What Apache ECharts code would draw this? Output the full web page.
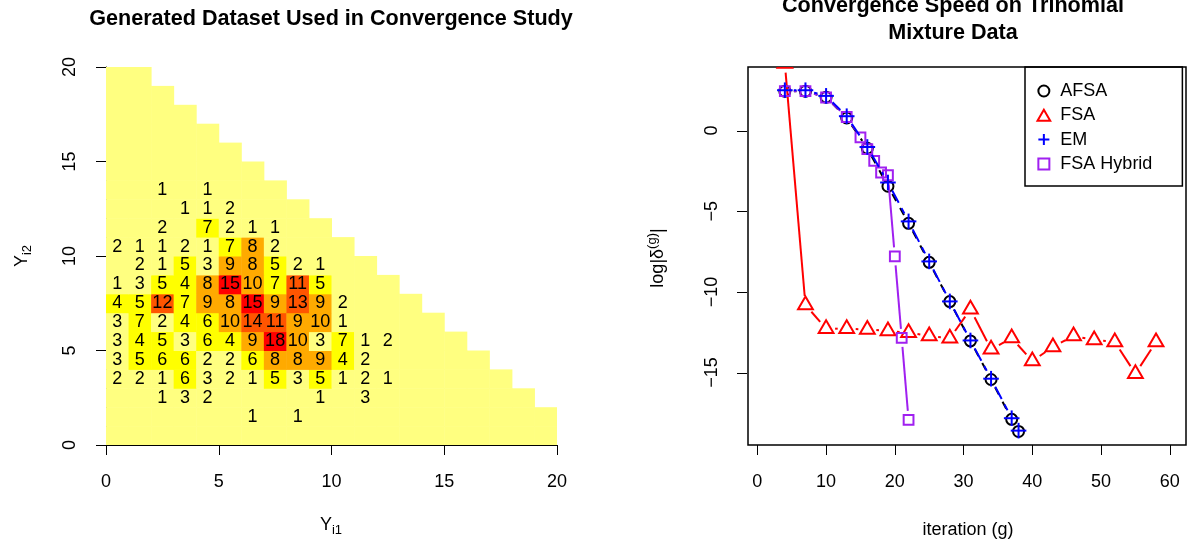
<!DOCTYPE html>
<html>
<head>
<meta charset="utf-8">
<title>Convergence study</title>
<script src="https://cdn.jsdelivr.net/npm/echarts@6/dist/echarts.min.js"></script>
<style>
  html, body { margin: 0; padding: 0; background: #fff; }
  #chart { width: 1187px; height: 546px; }
</style>
</head>
<body>
<div id="chart"></div>
<script>
// ---- left panel: counts of (Y_i1, Y_i2), row y -> counts for Y_i1 = 0..12
const trials = 20;
const countRowY = [13, 12, 11, 10, 9, 8, 7, 6, 5, 4, 3, 2, 1];
const countRows = [
    [0, 0, 1, 0, 1, 0, 0, 0, 0, 0, 0, 0, 0],
    [0, 0, 0, 1, 1, 2, 0, 0, 0, 0, 0, 0, 0],
    [0, 0, 2, 0, 7, 2, 1, 1, 0, 0, 0, 0, 0],
    [2, 1, 1, 2, 1, 7, 8, 2, 0, 0, 0, 0, 0],
    [0, 2, 1, 5, 3, 9, 8, 5, 2, 1, 0, 0, 0],
    [1, 3, 5, 4, 8, 15, 10, 7, 11, 5, 0, 0, 0],
    [4, 5, 12, 7, 9, 8, 15, 9, 13, 9, 2, 0, 0],
    [3, 7, 2, 4, 6, 10, 14, 11, 9, 10, 1, 0, 0],
    [3, 4, 5, 3, 6, 4, 9, 18, 10, 3, 7, 1, 2],
    [3, 5, 6, 6, 2, 2, 6, 8, 8, 9, 4, 2, 0],
    [2, 2, 1, 6, 3, 2, 1, 5, 3, 5, 1, 2, 1],
    [0, 0, 1, 3, 2, 0, 0, 0, 0, 1, 0, 3, 0],
    [0, 0, 0, 0, 0, 0, 1, 0, 1, 0, 0, 0, 0]
];
const heatColors = ['#FFFF80', '#FFFF00', '#FFAA00', '#FF5500', '#FF0000'];

// ---- right panel: log|delta| per iteration
const itersAFSA = [4, 7, 10, 13, 16, 19, 22, 25, 28, 31, 34, 37, 38];
const valsAFSA = [2.44, 2.44, 2.07, 0.78, -1.10, -3.45, -5.75, -8.17, -10.60, -13.04, -15.43, -17.90, -18.65];
const itersEM = [4, 7, 10, 13, 16, 19, 22, 25, 28, 31, 34, 37, 38];
const valsEM = [2.50, 2.50, 2.15, 0.89, -1.02, -3.22, -5.63, -8.11, -10.59, -13.01, -15.38, -17.83, -18.60];
const itersFSA = [4, 7, 10, 13, 16, 19, 22, 25, 28, 31, 34, 37, 40, 43, 46, 49, 52, 55, 58];
const valsFSA = [4.15, -10.81, -12.28, -12.28, -12.33, -12.42, -12.53, -12.73, -12.88, -11.08, -13.56,
    -12.86, -14.29, -13.41, -12.73, -12.98, -13.10, -15.07, -13.10];
const itersHybrid = [4, 7, 10, 13, 15, 16, 17, 18, 19, 20, 21, 22];
const valsHybrid = [2.44, 2.44, 2.05, 0.84, -0.42, -1.15, -1.88, -2.60, -2.77, -7.80, -12.85, -17.93];
const iterTicks = [0, 10, 20, 30, 40, 50, 60];
const logTicks = [-15, -10, -5, 0];

const FONT = '"Liberation Sans", Arial, Helvetica, sans-serif';
const GAP = 9; // gap left around points (type = "b")
const ITER_MIN = -1.36, ITER_MAX = 62.36;

const chart = echarts.init(document.getElementById('chart'));

// heatmap cells, whole triangle Y_i1 + Y_i2 <= trials
function countAt(i, j) {
    const r = countRowY.indexOf(j);
    if (r < 0 || i >= countRows[r].length) return 0;
    return countRows[r][i];
}
const heatData = [];
for (let j = 0; j <= trials; j++) {
    for (let i = 0; i + j <= trials; i++) heatData.push([i, j, countAt(i, j)]);
}
const maxCount = Math.max(...heatData.map(d => d[2]));
function heatColor(n) {
    const k = Math.min(heatColors.length - 1, Math.floor(n / maxCount * heatColors.length - 1e-9));
    return heatColors[Math.max(0, k)];
}

function symbolShape(shape, p, color) {
    const st = { fill: 'none', stroke: color, lineWidth: 2 };
    if (shape === 'circle') return [{ type: 'circle', shape: { cx: p[0], cy: p[1], r: 5.5 }, style: st }];
    if (shape === 'triangle') {
        const r = 8.5, w = 7.4;
        return [{ type: 'polygon', shape: { points: [[p[0], p[1] - r], [p[0] + w, p[1] + r / 2], [p[0] - w, p[1] + r / 2]] }, style: st }];
    }
    if (shape === 'square') return [{ type: 'rect', shape: { x: p[0] - 4.9, y: p[1] - 4.9, width: 9.8, height: 9.8 }, style: st }];
    return [
        { type: 'line', shape: { x1: p[0] - 7.8, y1: p[1], x2: p[0] + 7.8, y2: p[1] }, style: st },
        { type: 'line', shape: { x1: p[0], y1: p[1] - 7.8, x2: p[0], y2: p[1] + 7.8 }, style: st }
    ];
}

function methodSeries(name, xs, ys, color, dash, shape) {
    const data = xs.map((x, k) => [x, ys[k],
        k + 1 < xs.length ? xs[k + 1] : NaN, k + 1 < xs.length ? ys[k + 1] : NaN]);
    return {
        type: 'custom', name: name, xAxisIndex: 1, yAxisIndex: 1, clip: true,
        data: data, encode: { x: 0, y: 1 },
        renderItem: function (params, api) {
            const p = api.coord([api.value(0), api.value(1)]);
            const children = [];
            const xn = api.value(2), yn = api.value(3);
            if (isFinite(xn) && isFinite(yn)) {
                const q = api.coord([xn, yn]);
                const dx = q[0] - p[0], dy = q[1] - p[1];
                const f = GAP / Math.sqrt(dx * dx + dy * dy);
                if (f < 0.5) {
                    children.push({
                        type: 'line',
                        shape: { x1: p[0] + f * dx, y1: p[1] + f * dy, x2: q[0] - f * dx, y2: q[1] - f * dy },
                        style: { stroke: color, lineWidth: 2, lineDash: dash, fill: null }
                    });
                }
            }
            return { type: 'group', children: children.concat(symbolShape(shape, p, color)) };
        }
    };
}

function txt(x, y, text, opts) {
    return Object.assign({
        type: 'text', x: x, y: y,
        style: Object.assign({
            text: text, fill: '#000', font: '18px ' + FONT,
            align: 'center', verticalAlign: 'middle', textAlign: 'center', textVerticalAlign: 'middle'
        }, opts && opts.style)
    }, opts && opts.el);
}

const axisBase = {
    type: 'value',
    splitLine: { show: false },
    axisTick: { show: true, inside: false, length: 10, lineStyle: { color: '#000', width: 1 } },
    axisLabel: { color: '#000', fontFamily: FONT, fontSize: 18, margin: 28 }
};

const option = {
    animation: false,
    backgroundColor: '#fff',
    grid: [
        { left: 106, right: 630, top: 67, bottom: 101 },
        { left: 748, right: 1, top: 67, bottom: 101, show: true, borderColor: '#000', borderWidth: 1.5, backgroundColor: 'transparent' }
    ],
    xAxis: [
        Object.assign({}, axisBase, {
            gridIndex: 0, min: 0, max: trials, interval: 5,
            axisLine: { show: true, onZero: false, lineStyle: { color: '#000', width: 1 } }
        }),
        Object.assign({}, axisBase, {
            gridIndex: 1, min: ITER_MIN, max: ITER_MAX, position: 'bottom',
            axisLine: { show: false, onZero: false },
            axisTick: Object.assign({}, axisBase.axisTick, { customValues: iterTicks }),
            axisLabel: Object.assign({}, axisBase.axisLabel, { customValues: iterTicks })
        })
    ],
    yAxis: [
        Object.assign({}, axisBase, {
            gridIndex: 0, min: 0, max: trials, interval: 5,
            axisLine: { show: true, onZero: false, lineStyle: { color: '#000', width: 1 } },
            axisLabel: Object.assign({}, axisBase.axisLabel, { rotate: 90, margin: 27 })
        }),
        Object.assign({}, axisBase, {
            gridIndex: 1, min: -19.49, max: 3.94, position: 'left',
            axisLine: { show: false, onZero: false },
            axisTick: { show: false },
            axisLabel: Object.assign({}, axisBase.axisLabel, {
                rotate: 90, margin: 27, customValues: logTicks,
                formatter: v => (v < 0 ? '\u2212' + Math.abs(v) : String(v))
            })
        })
    ],
    legend: {
        left: 1025, top: 67, orient: 'vertical',
        padding: [15, 30, 13, 10],
        itemWidth: 15, itemHeight: 11, itemGap: 6.3,
        symbolKeepAspect: true,
        borderColor: '#000', borderWidth: 1.5, borderRadius: 0,
        selectedMode: false,
        textStyle: { fontFamily: FONT, fontSize: 18, color: '#000', padding: [0, 0, 0, 4] },
        data: [
            { name: 'AFSA', icon: 'circle', itemStyle: { color: 'none', borderColor: '#000000', borderWidth: 2 } },
            { name: 'FSA', icon: 'path://M7.4,0L14.8,12.8L0,12.8Z', itemStyle: { color: 'none', borderColor: '#FF0000', borderWidth: 2 } },
            { name: 'EM', icon: 'path://M0,5L10,5M5,0L5,10', itemStyle: { color: 'none', borderColor: '#0000FF', borderWidth: 2 } },
            { name: 'FSA Hybrid', icon: 'path://M0,0L10,0L10,10L0,10Z', itemStyle: { color: 'none', borderColor: '#A020F0', borderWidth: 2 } }
        ]
    },
    graphic: [
        txt(331, 19.5, 'Generated Dataset Used in Convergence Study', { style: { font: 'bold 21.6px ' + FONT } }),
        txt(953, 5.6, 'Convergence Speed on Trinomial', { style: { font: 'bold 21.6px ' + FONT } }),
        txt(953, 33, 'Mixture Data', { style: { font: 'bold 21.6px ' + FONT } }),
        txt(331, 525, '{a|Y}{b|i1}', {
            style: { rich: { a: { fontSize: 18, lineHeight: 24, fontFamily: FONT }, b: { fontSize: 13, lineHeight: 12, verticalAlign: 'bottom', fontFamily: FONT } } }
        }),
        txt(968, 530, 'iteration (g)'),
        txt(22, 256, '{a|Y}{b|i2}', {
            el: { rotation: Math.PI / 2 },
            style: { rich: { a: { fontSize: 18, lineHeight: 24, fontFamily: FONT }, b: { fontSize: 13, lineHeight: 12, verticalAlign: 'bottom', fontFamily: FONT } } }
        }),
        txt(658, 258, '{a|log|\u03B4}{b|(g)}{a||}', {
            el: { rotation: Math.PI / 2 },
            style: { rich: { a: { fontSize: 18, lineHeight: 24, fontFamily: FONT }, b: { fontSize: 13, lineHeight: 13, verticalAlign: 'top', fontFamily: FONT } } }
        })
    ],
    series: [
        {
            type: 'custom', name: 'counts', xAxisIndex: 0, yAxisIndex: 0, clip: true,
            data: heatData, encode: { x: 0, y: 1 },
            renderItem: function (params, api) {
                const i = api.value(0), j = api.value(1), n = api.value(2);
                const a = api.coord([i, j + 1]), b = api.coord([i + 1, j]);
                const children = [{
                    type: 'rect',
                    shape: { x: a[0], y: a[1], width: b[0] - a[0] + 0.5, height: b[1] - a[1] + 0.5 },
                    style: { fill: heatColor(n) }
                }];
                if (n > 0) children.push(txt((a[0] + b[0]) / 2, (a[1] + b[1]) / 2, String(n)));
                return { type: 'group', children: children };
            }
        },
        {
            // y ticks of the right panel, placed through the axis scale
            type: 'custom', name: 'logTicks', xAxisIndex: 1, yAxisIndex: 1, clip: false, silent: true,
            data: logTicks.map(v => [ITER_MIN, v]), encode: { x: 0, y: 1 },
            renderItem: function (params, api) {
                const p = api.coord([api.value(0), api.value(1)]);
                const y = Math.round(p[1]) + 0.5;
                return { type: 'line', shape: { x1: p[0] - 11, y1: y, x2: p[0] - 1, y2: y }, style: { stroke: '#000', lineWidth: 1 } };
            }
        },
        methodSeries('AFSA', itersAFSA, valsAFSA, '#000000', [8, 8], 'circle'),
        methodSeries('FSA', itersFSA, valsFSA, '#FF0000', null, 'triangle'),
        methodSeries('FSA Hybrid', itersHybrid, valsHybrid, '#A020F0', null, 'square'),
        methodSeries('EM', itersEM, valsEM, '#0000FF', [14, 6], 'plus')
    ]
};

chart.setOption(option);
</script>
</body>
</html>
